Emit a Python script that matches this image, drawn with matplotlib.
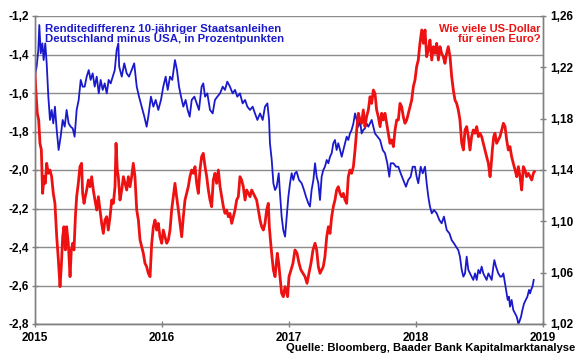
import matplotlib
matplotlib.use("Agg")
import matplotlib.pyplot as plt
from matplotlib.ticker import FixedLocator, FuncFormatter

plt.rcParams['font.family'] = ['Liberation Sans', 'DejaVu Sans']
plt.rcParams['font.weight'] = 'bold'

# Renditedifferenz Bund - Treasury (Prozentpunkte), Zeit in Dezimaljahren
t_spread = [0.000, 0.013, 0.026, 0.034, 0.045, 0.058, 0.068, 0.081, 0.092, 0.105, 0.118, 0.131, 0.144, 0.157,
            0.171, 0.186, 0.202, 0.218, 0.234, 0.249, 0.265, 0.281, 0.297, 0.312, 0.328, 0.344, 0.360, 0.375,
            0.391, 0.407, 0.423, 0.438, 0.454, 0.470, 0.486, 0.502, 0.517, 0.533, 0.549, 0.565, 0.580, 0.596,
            0.612, 0.628, 0.643, 0.656, 0.663, 0.683, 0.703, 0.722, 0.740, 0.761, 0.781, 0.801, 0.819, 0.840,
            0.861, 0.879, 0.892, 0.913, 0.932, 0.950, 0.971, 0.992, 1.010, 1.029, 1.045, 1.063, 1.081, 1.102,
            1.118, 1.134, 1.150, 1.168, 1.186, 1.202, 1.218, 1.234, 1.255, 1.273, 1.291, 1.312, 1.325, 1.339,
            1.357, 1.378, 1.399, 1.417, 1.436, 1.457, 1.478, 1.496, 1.514, 1.535, 1.556, 1.575, 1.593, 1.614,
            1.635, 1.654, 1.672, 1.693, 1.714, 1.732, 1.751, 1.772, 1.793, 1.811, 1.830, 1.843, 1.850, 1.864,
            1.877, 1.890, 1.903, 1.919, 1.929, 1.942, 1.955, 1.969, 1.982, 1.995, 2.008, 2.021, 2.034, 2.047,
            2.060, 2.079, 2.100, 2.118, 2.134, 2.152, 2.165, 2.178, 2.192, 2.205, 2.218, 2.231, 2.244, 2.257,
            2.270, 2.283, 2.297, 2.310, 2.323, 2.336, 2.349, 2.362, 2.375, 2.388, 2.402, 2.415, 2.428, 2.441,
            2.454, 2.467, 2.480, 2.493, 2.507, 2.520, 2.533, 2.546, 2.559, 2.572, 2.585, 2.598, 2.611, 2.625,
            2.638, 2.651, 2.664, 2.677, 2.697, 2.717, 2.738, 2.756, 2.774, 2.790, 2.801, 2.822, 2.843, 2.861,
            2.879, 2.900, 2.921, 2.939, 2.958, 2.974, 2.992, 3.005, 3.018, 3.037, 3.053, 3.071, 3.084, 3.097,
            3.110, 3.124, 3.142, 3.163, 3.184, 3.202, 3.220, 3.242, 3.263, 3.281, 3.299, 3.315, 3.333, 3.346,
            3.360, 3.373, 3.386, 3.399, 3.412, 3.425, 3.438, 3.451, 3.465, 3.478, 3.491, 3.504, 3.517, 3.530,
            3.543, 3.556, 3.570, 3.583, 3.596, 3.609, 3.617, 3.630, 3.648, 3.664, 3.675, 3.688, 3.701, 3.714,
            3.722, 3.732, 3.740, 3.753, 3.766, 3.780, 3.793, 3.806, 3.814, 3.827, 3.838, 3.851, 3.864, 3.877,
            3.890, 3.898, 3.906, 3.917, 3.927]
spread = [-1.507, -1.463, -1.377, -1.247, -1.394, -1.342, -1.429, -1.342, -1.446, -1.619, -1.740, -1.688, -1.758, -1.671,
          -1.792, -1.896, -1.827, -1.740, -1.775, -1.688, -1.758, -1.775, -1.784, -1.827, -1.688, -1.636, -1.532, -1.567,
          -1.567, -1.515, -1.481, -1.532, -1.498, -1.567, -1.515, -1.602, -1.532, -1.584, -1.550, -1.602, -1.532, -1.550,
          -1.515, -1.481, -1.377, -1.342, -1.463, -1.515, -1.446, -1.498, -1.515, -1.481, -1.446, -1.567, -1.619, -1.671,
          -1.723, -1.775, -1.723, -1.619, -1.671, -1.636, -1.688, -1.636, -1.567, -1.515, -1.584, -1.515, -1.532, -1.429,
          -1.481, -1.567, -1.619, -1.671, -1.636, -1.688, -1.723, -1.636, -1.619, -1.654, -1.688, -1.567, -1.550, -1.619,
          -1.602, -1.688, -1.706, -1.636, -1.619, -1.602, -1.567, -1.584, -1.541, -1.567, -1.602, -1.584, -1.619, -1.602,
          -1.654, -1.636, -1.671, -1.688, -1.671, -1.706, -1.740, -1.706, -1.740, -1.671, -1.654, -1.740, -1.861, -1.948,
          -2.069, -2.104, -2.087, -2.017, -2.121, -2.242, -2.312, -2.346, -2.242, -2.139, -2.069, -2.017, -2.052, -2.017,
          -2.009, -2.052, -2.069, -2.104, -2.139, -2.173, -2.190, -2.104, -2.052, -1.965, -2.035, -2.069, -2.156, -2.035,
          -2.000, -1.983, -1.948, -1.965, -1.931, -1.913, -1.861, -1.844, -1.896, -1.861, -1.896, -1.931, -1.896, -1.861,
          -1.827, -1.844, -1.810, -1.792, -1.758, -1.706, -1.740, -1.775, -1.740, -1.810, -1.792, -1.784, -1.758, -1.775,
          -1.758, -1.740, -1.775, -1.810, -1.827, -1.844, -1.896, -1.913, -1.965, -2.035, -1.965, -1.965, -1.983, -1.983,
          -2.017, -2.052, -2.087, -2.052, -2.035, -1.983, -1.983, -2.035, -2.069, -1.983, -2.017, -1.983, -2.069, -2.139,
          -2.190, -2.225, -2.208, -2.225, -2.260, -2.277, -2.242, -2.312, -2.329, -2.364, -2.381, -2.398, -2.416, -2.450,
          -2.519, -2.554, -2.537, -2.450, -2.519, -2.537, -2.554, -2.571, -2.537, -2.571, -2.519, -2.537, -2.502, -2.537,
          -2.554, -2.571, -2.537, -2.554, -2.571, -2.502, -2.468, -2.502, -2.537, -2.554, -2.554, -2.537, -2.589, -2.641,
          -2.675, -2.658, -2.710, -2.675, -2.727, -2.745, -2.762, -2.797, -2.788, -2.762, -2.727, -2.693, -2.675, -2.658,
          -2.623, -2.641, -2.623, -2.606, -2.571]

# EUR/USD
t_eurusd = [0.000, 0.008, 0.018, 0.029, 0.039, 0.050, 0.060, 0.071, 0.081, 0.092, 0.105, 0.118, 0.131, 0.144,
            0.157, 0.171, 0.184, 0.197, 0.207, 0.218, 0.228, 0.239, 0.249, 0.262, 0.276, 0.286, 0.297, 0.307,
            0.318, 0.328, 0.341, 0.354, 0.367, 0.375, 0.386, 0.396, 0.407, 0.420, 0.433, 0.446, 0.459, 0.472,
            0.486, 0.499, 0.512, 0.525, 0.538, 0.551, 0.564, 0.577, 0.591, 0.604, 0.617, 0.630, 0.638, 0.648,
            0.656, 0.669, 0.683, 0.696, 0.709, 0.722, 0.735, 0.748, 0.761, 0.774, 0.787, 0.801, 0.814, 0.827,
            0.840, 0.853, 0.866, 0.879, 0.892, 0.906, 0.919, 0.932, 0.945, 0.958, 0.971, 0.984, 0.998, 1.010,
            1.024, 1.037, 1.050, 1.063, 1.076, 1.089, 1.102, 1.115, 1.129, 1.142, 1.155, 1.168, 1.181, 1.194,
            1.207, 1.220, 1.234, 1.247, 1.260, 1.273, 1.286, 1.299, 1.312, 1.325, 1.339, 1.352, 1.365, 1.378,
            1.391, 1.404, 1.417, 1.430, 1.444, 1.457, 1.470, 1.483, 1.496, 1.509, 1.522, 1.535, 1.549, 1.562,
            1.575, 1.588, 1.601, 1.614, 1.627, 1.640, 1.654, 1.667, 1.680, 1.693, 1.706, 1.719, 1.732, 1.745,
            1.759, 1.772, 1.785, 1.798, 1.811, 1.824, 1.837, 1.845, 1.856, 1.866, 1.877, 1.890, 1.898, 1.908,
            1.919, 1.929, 1.942, 1.955, 1.969, 1.982, 1.989, 2.000, 2.016, 2.031, 2.047, 2.063, 2.079, 2.094,
            2.110, 2.126, 2.142, 2.157, 2.173, 2.189, 2.205, 2.218, 2.231, 2.244, 2.257, 2.270, 2.283, 2.297,
            2.310, 2.323, 2.336, 2.349, 2.362, 2.375, 2.388, 2.402, 2.415, 2.428, 2.441, 2.454, 2.467, 2.480,
            2.493, 2.507, 2.520, 2.533, 2.546, 2.559, 2.572, 2.585, 2.598, 2.611, 2.625, 2.638, 2.651, 2.664,
            2.677, 2.690, 2.703, 2.717, 2.730, 2.743, 2.756, 2.769, 2.782, 2.795, 2.808, 2.822, 2.835, 2.848,
            2.861, 2.874, 2.887, 2.900, 2.913, 2.927, 2.940, 2.953, 2.966, 2.979, 2.992, 3.005, 3.018, 3.031,
            3.045, 3.058, 3.071, 3.084, 3.097, 3.110, 3.124, 3.137, 3.150, 3.163, 3.176, 3.189, 3.202, 3.215,
            3.228, 3.241, 3.254, 3.268, 3.281, 3.294, 3.307, 3.320, 3.333, 3.346, 3.360, 3.373, 3.386, 3.399,
            3.412, 3.425, 3.438, 3.451, 3.465, 3.478, 3.491, 3.504, 3.517, 3.530, 3.543, 3.556, 3.570, 3.583,
            3.591, 3.601, 3.612, 3.622, 3.635, 3.648, 3.661, 3.675, 3.688, 3.701, 3.714, 3.727, 3.740, 3.753,
            3.766, 3.780, 3.793, 3.806, 3.819, 3.832, 3.845, 3.858, 3.871, 3.885, 3.898, 3.911, 3.924, 3.932]
eurusd = [1.2153, 1.1997, 1.1842, 1.1790, 1.1608, 1.1556, 1.1218, 1.1348, 1.1296, 1.1452, 1.1374, 1.1400, 1.1348, 1.1218,
          1.1140, 1.0880, 1.0699, 1.0491, 1.0647, 1.0880, 1.0958, 1.0777, 1.0958, 1.0829, 1.0569, 1.0777, 1.0829, 1.0777,
          1.1036, 1.1192, 1.1296, 1.1426, 1.1452, 1.1218, 1.1140, 1.1192, 1.1244, 1.1322, 1.1270, 1.1348, 1.1244, 1.1166,
          1.1088, 1.1192, 1.1088, 1.0984, 1.0906, 1.1010, 1.1036, 1.0932, 1.1036, 1.1166, 1.1140, 1.1270, 1.1608, 1.1400,
          1.1348, 1.1166, 1.1244, 1.1348, 1.1296, 1.1244, 1.1348, 1.1270, 1.1348, 1.1452, 1.1348, 1.1088, 1.1010, 1.0855,
          1.0803, 1.0751, 1.0673, 1.0647, 1.0595, 1.0569, 1.0829, 1.0958, 1.1010, 1.0932, 1.0984, 1.0880, 1.0829, 1.0932,
          1.0880, 1.0829, 1.0855, 1.0932, 1.1088, 1.1192, 1.1296, 1.1192, 1.1088, 1.0984, 1.0880, 1.1036, 1.1166, 1.1218,
          1.1270, 1.1348, 1.1400, 1.1374, 1.1426, 1.1296, 1.1218, 1.1400, 1.1504, 1.1530, 1.1426, 1.1348, 1.1244, 1.1166,
          1.1114, 1.1322, 1.1374, 1.1296, 1.1400, 1.1270, 1.1192, 1.1114, 1.1062, 1.1088, 1.1036, 1.1062, 1.0984, 1.1036,
          1.1088, 1.1166, 1.1192, 1.1348, 1.1322, 1.1270, 1.1166, 1.1244, 1.1218, 1.1192, 1.1244, 1.1218, 1.1192, 1.1166,
          1.1088, 1.1010, 1.0958, 1.0932, 1.0984, 1.1088, 1.1140, 1.0958, 1.0829, 1.0725, 1.0621, 1.0569, 1.0647, 1.0751,
          1.0673, 1.0569, 1.0439, 1.0413, 1.0491, 1.0439, 1.0413, 1.0569, 1.0621, 1.0673, 1.0777, 1.0751, 1.0673, 1.0621,
          1.0595, 1.0569, 1.0517, 1.0595, 1.0673, 1.0777, 1.0829, 1.0777, 1.0647, 1.0595, 1.0621, 1.0647, 1.0725, 1.0880,
          1.0958, 1.0906, 1.1036, 1.1114, 1.1166, 1.1244, 1.1270, 1.1218, 1.1192, 1.1218, 1.1166, 1.1140, 1.1348, 1.1400,
          1.1374, 1.1426, 1.1556, 1.1712, 1.1842, 1.1790, 1.1764, 1.1868, 1.1738, 1.1816, 1.1868, 1.1971, 1.1919, 1.2023,
          1.1997, 1.1868, 1.1816, 1.1738, 1.1842, 1.1790, 1.1842, 1.1764, 1.1686, 1.1608, 1.1634, 1.1582, 1.1712, 1.1790,
          1.1790, 1.1919, 1.1894, 1.1816, 1.1764, 1.1790, 1.1842, 1.1894, 1.1945, 1.2049, 1.2101, 1.2205, 1.2257, 1.2387,
          1.2491, 1.2387, 1.2491, 1.2283, 1.2335, 1.2413, 1.2257, 1.2361, 1.2309, 1.2387, 1.2257, 1.2361, 1.2309, 1.2283,
          1.2231, 1.2309, 1.2361, 1.2283, 1.2127, 1.2023, 1.1945, 1.1919, 1.1868, 1.1790, 1.1608, 1.1556, 1.1712, 1.1738,
          1.1660, 1.1556, 1.1660, 1.1712, 1.1686, 1.1738, 1.1660, 1.1686, 1.1660, 1.1608, 1.1556, 1.1504, 1.1452, 1.1348,
          1.1426, 1.1556, 1.1660, 1.1686, 1.1608, 1.1634, 1.1660, 1.1712, 1.1764, 1.1738, 1.1634, 1.1556, 1.1582, 1.1504,
          1.1452, 1.1400, 1.1348, 1.1426, 1.1348, 1.1244, 1.1426, 1.1400, 1.1348, 1.1374, 1.1348, 1.1322, 1.1374, 1.1387]

year_ticks = [2015, 2016, 2017, 2018, 2019]
left_ticks = [-2.8, -2.6, -2.4, -2.2, -2.0, -1.8, -1.6, -1.4, -1.2]
right_ticks = [1.02, 1.06, 1.10, 1.14, 1.18, 1.22, 1.26]

blue = '#1a1acc'
red = '#ee1111'

fig = plt.figure(figsize=(5.8, 3.59), dpi=100)
ax = fig.add_axes([35 / 580, 1 - 324 / 359, 508 / 580, 308 / 359])
ax2 = ax.twinx()

ax.plot([2015 + t for t in t_spread], spread, color=blue, lw=1.3)
ax2.plot([2015 + t for t in t_eurusd], eurusd, color=red, lw=2.0)

ax.set_xlim(2015, 2019)
ax.set_ylim(-2.8, -1.2)
ax2.set_ylim(1.02, 1.26)

comma = lambda d: FuncFormatter(lambda v, p: f'{v:.{d}f}'.replace('.', ','))
ax.xaxis.set_major_locator(FixedLocator(year_ticks))
ax.xaxis.set_major_formatter(FuncFormatter(lambda v, p: f'{int(round(v))}'))
ax.yaxis.set_major_locator(FixedLocator(left_ticks))
ax.yaxis.set_major_formatter(comma(1))
ax2.yaxis.set_major_locator(FixedLocator(right_ticks))
ax2.yaxis.set_major_formatter(comma(2))

ax.grid(axis='y', color='#8c8c8c', lw=1.0)
ax.set_axisbelow(True)
for a in (ax, ax2):
    a.spines['top'].set_visible(False)
    for s in a.spines.values():
        s.set_color('#808080')
        s.set_linewidth(1.0)
    a.tick_params(direction='inout', length=5, color='#808080', labelsize=8.5, width=1.0)
ax.tick_params(axis='x', pad=3)
ax.tick_params(axis='y', pad=2)
ax2.tick_params(axis='y', pad=3)

ax.text(0.02, 0.975, 'Renditedifferenz 10-jähriger Staatsanleihen\nDeutschland minus USA, in Prozentpunkten',
        transform=ax.transAxes, color=blue, fontsize=8.2, fontweight='bold', va='top', ha='left', linespacing=1.05)
ax.text(0.995, 0.975, 'Wie viele US-Dollar\nfür einen Euro?', transform=ax.transAxes, color=red,
        fontsize=8, fontweight='bold', va='top', ha='right', multialignment='right', linespacing=1.05)
fig.text(0.992, 0.03, 'Quelle: Bloomberg, Baader Bank Kapitalmarktanalyse', ha='right', va='center',
         fontsize=8.1, fontweight='bold')

fig.savefig('out.png', dpi=100)
